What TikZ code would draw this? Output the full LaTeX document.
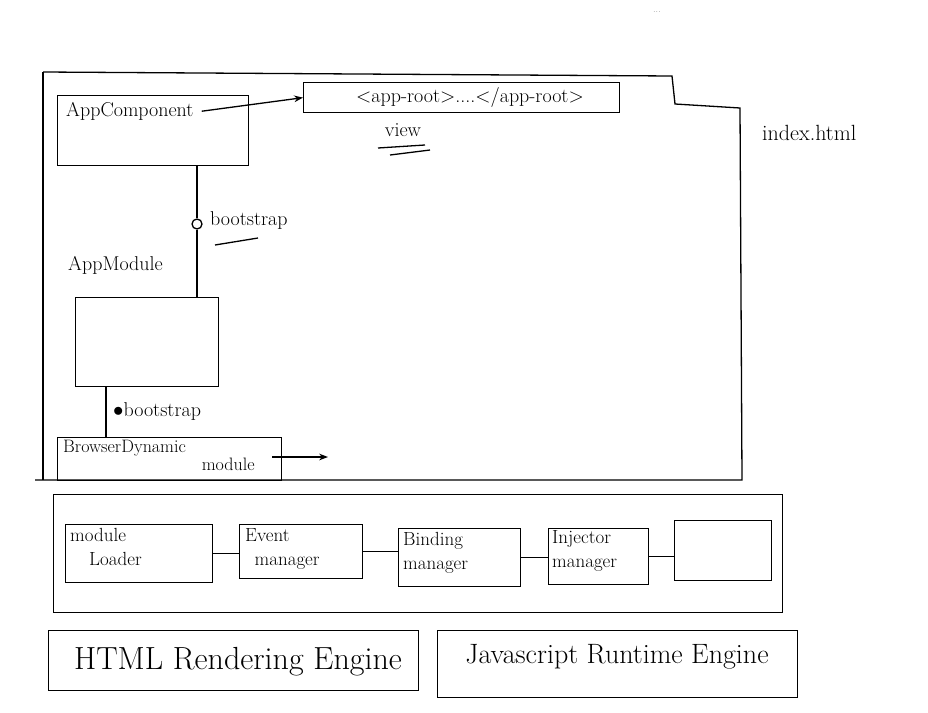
\documentclass[tikz,border=0pt]{standalone}
\usepackage{fontspec}
\usetikzlibrary{arrows.meta, positioning, calc}

\tikzset{
  box/.style={draw, line width=1.3pt, anchor=north west, inner sep=0pt},
  hand/.style={font=\fontsize{20}{22}\selectfont, inner sep=0pt},
  big/.style={font=\fontsize{32}{34}\selectfont, inner sep=0pt},
  small/.style={font=\fontsize{19}{24}\selectfont, inner sep=0pt, align=left},
  link/.style={line width=1.3pt}
}

\begin{document}
\begin{tikzpicture}[x=1pt, y=-1pt, >=Stealth]
\useasboundingbox (0,0) rectangle (928,712);

% page dots
\node[gray, font=\small] (dots) at (657,12) {...};

% index.html frame
\draw[link] (43,72) -- (672,76) -- (675,104) -- (740,108) -- (742,480) -- (35,480);
\draw[link] (43,72) -- (43,480);
\node[hand, font=\fontsize{22}{24}\selectfont, anchor=west] (idx) at (762,133) {index.html};

% AppComponent and the view
\node[box, minimum width=191pt, minimum height=70pt] (appcomp) at (57,95) {};
\node[hand, anchor=north west] (appcompTxt) at (66,102) {AppComponent};
\node[box, minimum width=316pt, minimum height=30pt] (approot) at (303,82) {};
\node[hand] (approotTxt) at (470,97) {<app-root>....</app-root>};
\draw[link, ->] ([xshift=8pt]appcompTxt.east) -- (approot.west);
\node[hand, font=\fontsize{20}{22}\selectfont] (view) at (403,130) {view};
\draw[link] (378,148) -- (425,145);
\draw[link] (390,155) -- (430,150);

% AppModule
\node[hand, anchor=west] (appmodTxt) at (68,265) {AppModule};
\node[box, minimum width=143pt, minimum height=89pt] (appmod) at (75,297) {};
\node[draw, line width=1.3pt, circle, minimum size=10pt, inner sep=0pt] (boot1) at (197,224) {};
\draw[link] (boot1) -- (boot1 |- appcomp.south);
\draw[link] (boot1) -- (boot1 |- appmod.north);
\node[hand, anchor=west] (boot1Txt) at (210,221) {bootstrap};
\draw[link] (215,245) -- (258,238);

% BrowserDynamicModule
\node[box, minimum width=224pt, minimum height=43pt] (browser) at (57,437) {};
\node[small, font=\fontsize{18}{18}\selectfont, anchor=north west] (browserTxt) at (63,440) {BrowserDynamic\\\hspace*{7.7em}module};
\coordinate (appmodIn) at (106,386);
\draw[link] (appmodIn) -- (appmodIn |- browser.north);
\node[hand, anchor=west] (boot2Txt) at (113,412) {$\bullet$bootstrap};
\coordinate (browserOut) at (328,457);
\draw[link, ->] ([xshift=-10pt]browser.east |- browserOut) -- (browserOut);

% Angular services
\node[box, minimum width=729pt, minimum height=118pt] (core) at (53,494) {};
\node[box, minimum width=147pt, minimum height=58pt] (loader) at (65,524) {};
\node[small, anchor=north west] (loaderTxt) at (70,528) {module\\\hspace*{1em}Loader};
\node[box, minimum width=123pt, minimum height=54pt] (event) at (239,524) {};
\node[small, anchor=north west] (eventTxt) at (245,528) {Event\\\hspace*{0.5em}manager};
\node[box, minimum width=122pt, minimum height=58pt] (binding) at (398,528) {};
\node[small, anchor=north west] (bindingTxt) at (403,532) {Binding\\manager};
\node[box, minimum width=100pt, minimum height=56pt] (injector) at (548,528) {};
\node[small, anchor=north west] (injectorTxt) at (552,530) {Injector\\manager};
\node[box, minimum width=97pt, minimum height=60pt] (blank) at (674,520) {};
\draw[link] (loader.east) -- (event.west |- loader.east);
\draw[link] (event.east) -- (binding.west |- event.east);
\draw[link] (binding.east) -- (injector.west |- binding.east);
\draw[link] (injector.east) -- (blank.west |- injector.east);

% engines
\node[box, minimum width=370pt, minimum height=60pt] (html) at (48,630) {};
\node[big] (htmlTxt) at (238,662) {HTML Rendering Engine};
\node[box, minimum width=360pt, minimum height=67pt] (js) at (437,630) {};
\node[hand, font=\fontsize{28}{30}\selectfont] (jsTxt) at (617,657) {Javascript Runtime Engine};

\end{tikzpicture}
\end{document}
